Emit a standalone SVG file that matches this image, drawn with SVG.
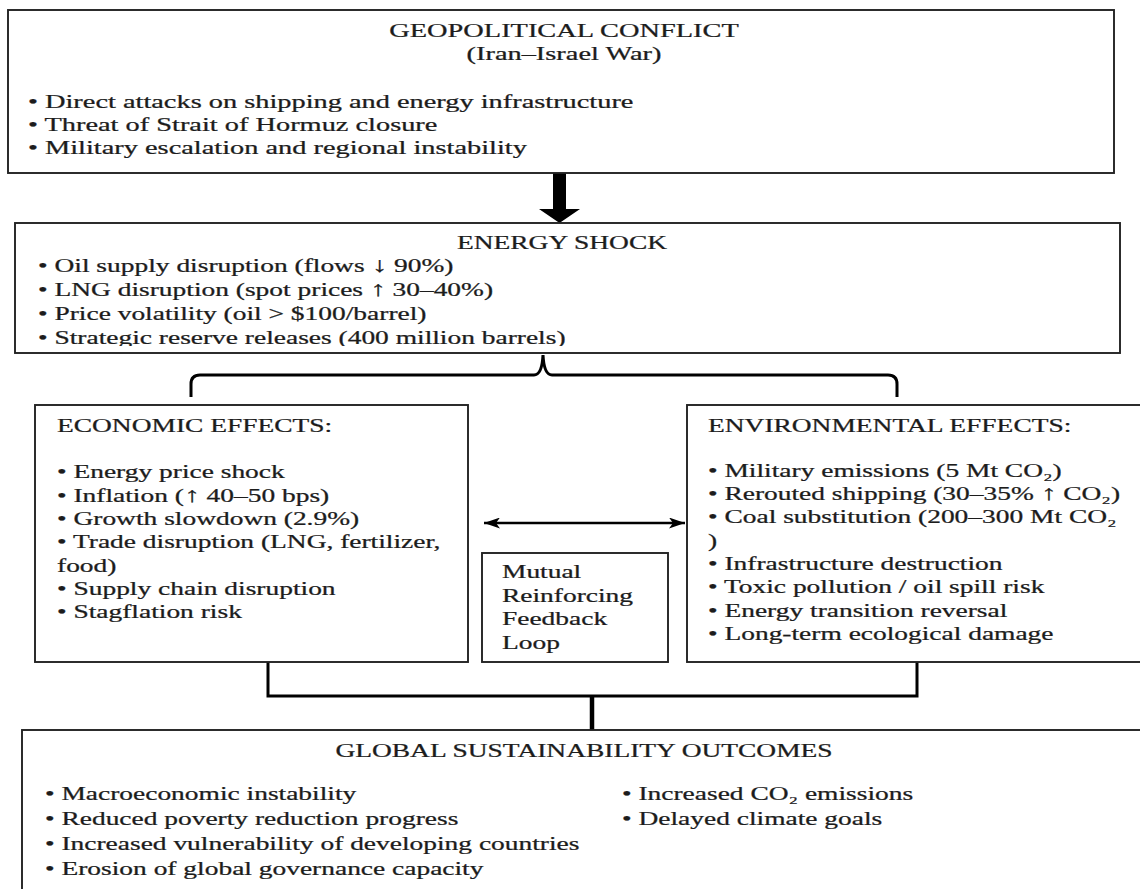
<svg xmlns="http://www.w3.org/2000/svg" width="1140" height="889" viewBox="0 0 1140 889">
<style>
  .box { fill: #ffffff; stroke: #222; stroke-width: 1.9; }
  .conn { fill: none; stroke: #000; stroke-width: 3; }
  text { font-family: "Liberation Serif", "Times New Roman", serif; font-size: 18.3px; fill: #1c1c1c; stroke: #1c1c1c; stroke-width: 0.25; }
  .c { text-anchor: middle; }
  .ar { font-size: 21px; }
</style>
<defs>
  <marker id="ah" viewBox="0 0 16 11" refX="16" refY="5.5" markerWidth="16" markerHeight="11" markerUnits="userSpaceOnUse" orient="auto-start-reverse">
    <path d="M0,0 L16,5.5 L0,11 L4,5.5 z" fill="#000"/>
  </marker>
  <clipPath id="clipE"><rect x="15" y="223" width="1105" height="123"/></clipPath>
</defs>
<rect width="1140" height="889" fill="#fff"/>

<g id="connectors">
  <polygon points="553,173 566,173 566,209 580,209 559.5,223 539,209 553,209" fill="#000"/>
  <path class="conn" d="M191,397 L191,384 Q191,375 200,375 L534,375 Q542,375 543,355 Q544,375 552,375 L888,375 Q897,375 897,384 L897,397"/>
  <line x1="484" y1="523" x2="685" y2="523" stroke="#000" stroke-width="2.5" marker-start="url(#ah)" marker-end="url(#ah)"/>
  <path class="conn" d="M268,662 L268,696 L917,696 L917,662"/>
  <line x1="592" y1="696" x2="592" y2="730" stroke="#000" stroke-width="4.5"/>
</g>

<g id="geopolitical-conflict">
  <rect class="box" x="8" y="10" width="1106" height="163"/>
  <g transform="translate(564 0) scale(1.55 1)">
    <text class="c" x="0" y="37">GEOPOLITICAL CONFLICT</text>
    <text class="c" x="0" y="60">(Iran–Israel War)</text>
  </g>
  <g transform="translate(28 0) scale(1.55 1)">
    <text x="0" y="108">• Direct attacks on shipping and energy infrastructure</text>
    <text x="0" y="131">• Threat of Strait of Hormuz closure</text>
    <text x="0" y="154">• Military escalation and regional instability</text>
  </g>
</g>

<g id="energy-shock">
  <rect class="box" x="15" y="223" width="1105" height="130"/>
  <g transform="translate(562 0) scale(1.5 1)">
    <text class="c" x="0" y="249">ENERGY SHOCK</text>
  </g>
  <g clip-path="url(#clipE)">
    <g transform="translate(38 0) scale(1.5 1)">
      <text x="0" y="272">• Oil supply disruption (flows <tspan class="ar">↓</tspan> 90%)</text>
      <text x="0" y="296">• LNG disruption (spot prices <tspan class="ar">↑</tspan> 30–40%)</text>
      <text x="0" y="320">• Price volatility (oil &gt; $100/barrel)</text>
      <text x="0" y="344">• Strategic reserve releases (400 million barrels)</text>
    </g>
  </g>
</g>

<g id="economic-effects">
  <rect class="box" x="35" y="405" width="433" height="257"/>
  <g transform="translate(57 0) scale(1.5 1)">
    <text x="0" y="432">ECONOMIC EFFECTS:</text>
    <text x="0" y="478">• Energy price shock</text>
    <text x="0" y="502">• Inflation (<tspan class="ar">↑</tspan> 40–50 bps)</text>
    <text x="0" y="525">• Growth slowdown (2.9%)</text>
    <text x="0" y="548">• Trade disruption (LNG, fertilizer,</text>
    <text x="0" y="572">food)</text>
    <text x="0" y="595">• Supply chain disruption</text>
    <text x="0" y="618">• Stagflation risk</text>
  </g>
</g>

<g id="feedback-loop">
  <rect class="box" x="482" y="553" width="186" height="109"/>
  <g transform="translate(502 0) scale(1.5 1)">
    <text x="0" y="578">Mutual</text>
    <text x="0" y="602">Reinforcing</text>
    <text x="0" y="625">Feedback</text>
    <text x="0" y="649">Loop</text>
  </g>
</g>

<g id="environmental-effects">
  <rect class="box" x="687" y="405" width="460" height="257"/>
  <g transform="translate(708 0) scale(1.5 1)">
    <text x="0" y="432">ENVIRONMENTAL EFFECTS:</text>
    <text x="0" y="477">• Military emissions (5 Mt CO₂)</text>
    <text x="0" y="500">• Rerouted shipping (30–35% <tspan class="ar">↑</tspan> CO₂)</text>
    <text x="0" y="523">• Coal substitution (200–300 Mt CO₂</text>
    <text x="0" y="547">)</text>
    <text x="0" y="570">• Infrastructure destruction</text>
    <text x="0" y="593">• Toxic pollution / oil spill risk</text>
    <text x="0" y="617">• Energy transition reversal</text>
    <text x="0" y="640">• Long-term ecological damage</text>
  </g>
</g>

<g id="global-sustainability-outcomes">
  <rect class="box" x="22" y="730" width="1130" height="170"/>
  <g transform="translate(584 0) scale(1.5 1)">
    <text class="c" x="0" y="757">GLOBAL SUSTAINABILITY OUTCOMES</text>
  </g>
  <g transform="translate(45 0) scale(1.5 1)">
    <text x="0" y="800">• Macroeconomic instability</text>
    <text x="0" y="825">• Reduced poverty reduction progress</text>
    <text x="0" y="850">• Increased vulnerability of developing countries</text>
    <text x="0" y="875">• Erosion of global governance capacity</text>
  </g>
  <g transform="translate(622 0) scale(1.5 1)">
    <text x="0" y="800">• Increased CO₂ emissions</text>
    <text x="0" y="825">• Delayed climate goals</text>
  </g>
</g>
</svg>
